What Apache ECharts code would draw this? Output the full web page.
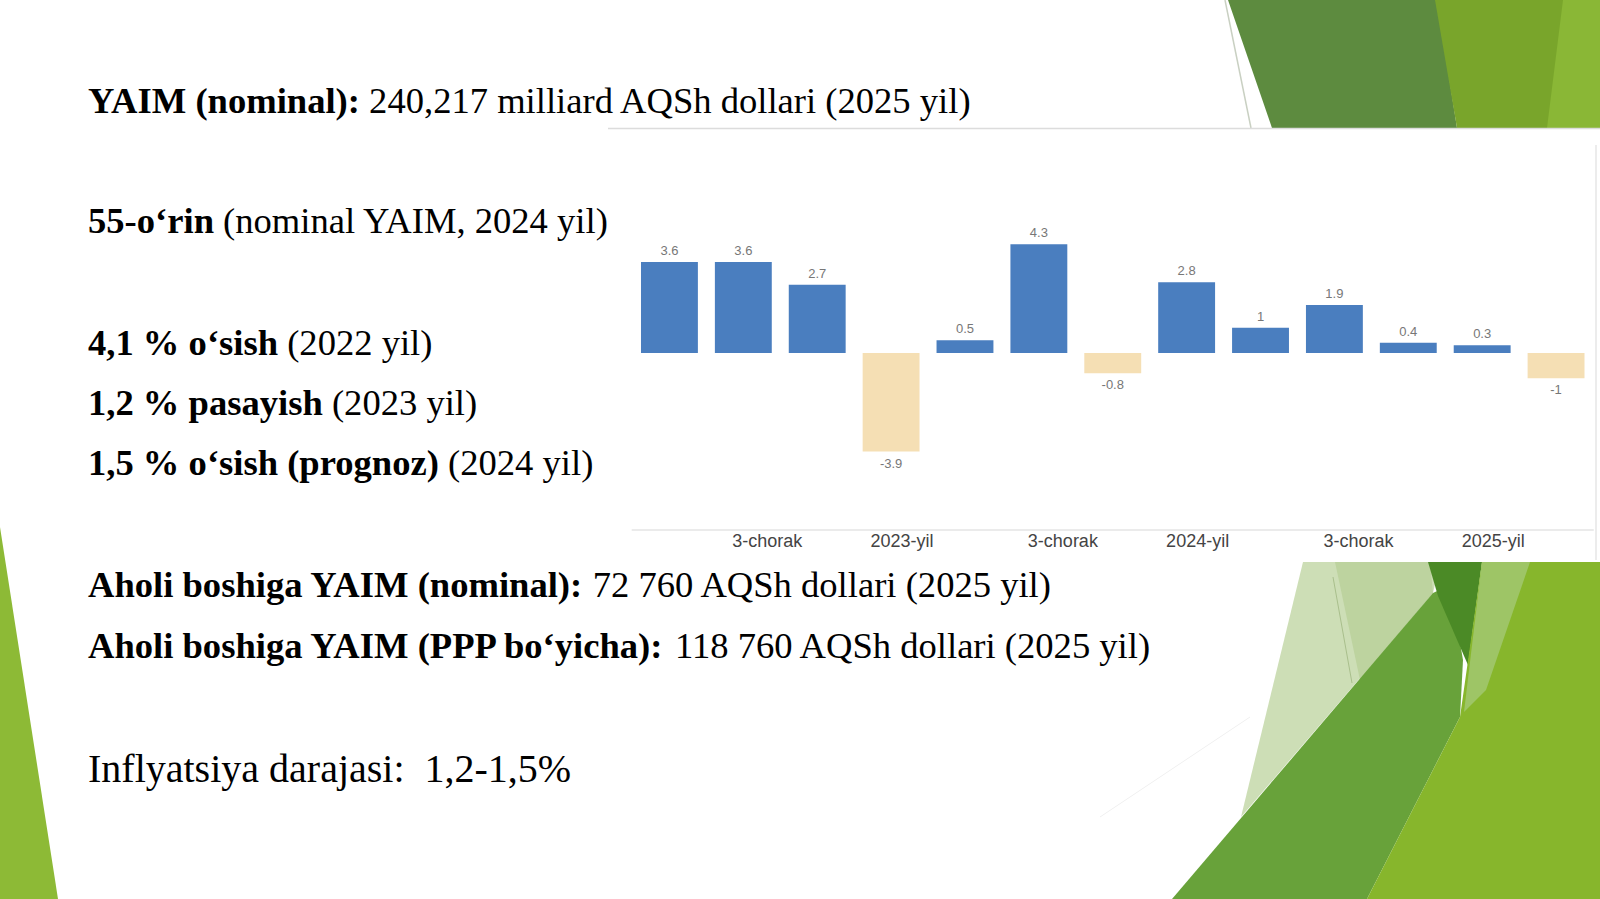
<!DOCTYPE html>
<html>
<head>
<meta charset="utf-8">
<title>YAIM</title>
<script src="https://cdn.jsdelivr.net/npm/echarts@6/dist/echarts.min.js"></script>
<style>
  html, body { margin: 0; padding: 0; background: #fff; }
  #main { width: 1600px; height: 899px; }
</style>
</head>
<body>
<div id="main"></div>
<script>
// quarterly GDP growth, %
const quarters = ['2022-2', '2022-3', '2022-4', '2023-1', '2023-2', '2023-3', '2023-4',
                  '2024-1', '2024-2', '2024-3', '2024-4', '2025-1', '2025-2'];
const growth = [3.6, 3.6, 2.7, -3.9, 0.5, 4.3, -0.8, 2.8, 1, 1.9, 0.4, 0.3, -1];
const tickLabels = ['', '3-chorak', '', '2023-yil', '', '3-chorak', '', '2024-yil', '', '3-chorak', '', '2025-yil', ''];

// slide text, one entry per line: [bold part, regular part]
const slideLines = [
  ['YAIM (nominal):', ' 240,217 milliard AQSh dollari (2025 yil)'],
  ['55-o‘rin', ' (nominal YAIM, 2024 yil)'],
  ['4,1 % o‘sish', ' (2022 yil)'],
  ['1,2 % pasayish', ' (2023 yil)'],
  ['1,5 % o‘sish (prognoz)', ' (2024 yil)'],
  ['Aholi boshiga YAIM (nominal):', ' 72 760 AQSh dollari (2025 yil)'],
  ['Aholi boshiga YAIM (PPP bo‘yicha):', ' 118 760 AQSh dollari (2025 yil)'],
  ['', 'Inflyatsiya darajasi:\u00a0 1,2-1,5%']
];
const lineBaselines = [113, 233, 355, 415, 475, 597, 658, 782];
const lineSizes = [36.6, 36.6, 36.6, 36.6, 36.6, 36.6, 36.6, 40];

const BLUE = '#4a7ebf';
const PEACH = '#f5dfb4';

const chart = echarts.init(document.getElementById('main'), null, { renderer: 'svg' });

function poly(points, fill, z) {
  return { type: 'polygon', z: z, silent: true, shape: { points: points }, style: { fill: fill } };
}
function line(x1, y1, x2, y2, color, w, z) {
  return { type: 'line', z: z, silent: true, shape: { x1: x1, y1: y1, x2: x2, y2: y2 },
           style: { stroke: color, lineWidth: w } };
}

const decor = [
  // top right
  poly([[1228, 0], [1437, 0], [1457, 128], [1272, 128]], '#5d8b3f', -20),
  poly([[1435, 0], [1600, 0], [1600, 128], [1457, 128]], '#79a52b', -20),
  poly([[1563, 0], [1600, 0], [1600, 128], [1547, 128]], '#8ab736', -19),
  line(1225, 0, 1251, 128, '#c9d0c2', 1.5, -19),
  // bottom right
  poly([[1303, 562], [1440, 562], [1433, 593], [1241, 817]], '#cddeb6', -20),
  poly([[1335, 562], [1430, 562], [1433, 593], [1360, 680]], '#bdd39f', -19),
  line(1333, 577, 1352, 683, '#a9bf8c', 1, -18),
  poly([[1172, 899], [1433, 593], [1450, 585], [1463, 660], [1460, 717], [1367, 899]], '#68a23a', -18),
  poly([[1428, 562], [1482, 562], [1468, 665], [1438, 596]], '#4b8a26', -17),
  poly([[1482, 562], [1600, 562], [1600, 899], [1367, 899], [1460, 717]], '#87b62c', -17),
  poly([[1482, 562], [1530, 562], [1486, 690], [1464, 712]], '#9ec566', -16),
  line(1100, 817, 1250, 717, '#f0f0f0', 1, -18),
  // left strip
  poly([[0, 527], [58, 899], [0, 899]], '#8dba36', -20),
  // pasted chart panel
  { type: 'rect', z: -10, silent: true, shape: { x: 608, y: 128, width: 992, height: 434 },
    style: { fill: '#ffffff', stroke: null } },
  line(608, 128.5, 1600, 128.5, '#dcdcdc', 1.5, -9),
  line(1596, 145, 1596, 560, '#e6e6e6', 1.5, -9)
];

const texts = slideLines.map(function (l, i) {
  const fs = lineSizes[i];
  return {
    type: 'text', z: 10, silent: true,
    x: 88, y: lineBaselines[i] - fs / 3,
    style: {
      text: (l[0] ? '{b|' + l[0] + '}' : '') + '{r|' + l[1] + '}',
      verticalAlign: 'middle',
      align: 'left',
      rich: {
        b: { fontFamily: 'Liberation Serif', fontSize: fs, fontWeight: 'bold', fill: '#000' },
        r: { fontFamily: 'Liberation Serif', fontSize: fs, fontWeight: 'normal', fill: '#000' }
      }
    }
  };
});

const option = {
  backgroundColor: '#ffffff',
  animation: false,
  graphic: decor.concat(texts),
  grid: { left: 632.5, right: 7, top: 226.5, bottom: 369, containLabel: false },
  xAxis: {
    type: 'category',
    data: quarters,
    axisTick: { show: false },
    axisLine: { show: true, onZero: false, lineStyle: { color: '#ebebeb', width: 2 } },
    axisLabel: {
      interval: 0,
      margin: 2,
      formatter: function (v, i) {
        const t = tickLabels[i];
        if (!t) return '';
        return t.indexOf('chorak') >= 0 ? '{q|' + t + '}' : '{y|' + t + '}';
      },
      rich: {
        q: { fontFamily: 'Liberation Sans', fontSize: 18, color: '#444', padding: [0, 0, 0, 48] },
        y: { fontFamily: 'Liberation Sans', fontSize: 18, color: '#444', padding: [0, 0, 0, 22] }
      }
    }
  },
  yAxis: {
    type: 'value',
    min: -7,
    max: 5,
    show: false,
    splitLine: { show: false }
  },
  series: [{
    type: 'bar',
    barWidth: '77%',
    data: growth.map(function (v) {
      return {
        value: v,
        itemStyle: { color: v < 0 ? PEACH : BLUE },
        label: { position: v < 0 ? 'bottom' : 'top' }
      };
    }),
    label: {
      show: true,
      distance: 5,
      fontFamily: 'Liberation Sans',
      fontSize: 13,
      color: '#777'
    }
  }]
};

chart.setOption(option);
</script>
</body>
</html>
